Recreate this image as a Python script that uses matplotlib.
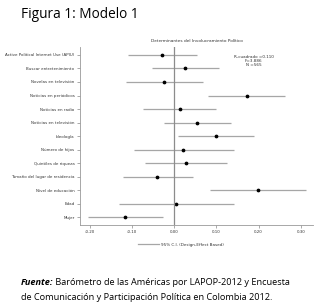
import matplotlib
matplotlib.use("Agg")
import matplotlib.pyplot as plt
from matplotlib.lines import Line2D
import numpy as np

variables = [
    "Active Political Internet Use (APIU)",
    "Buscar entretenimiento",
    "Novelas en televisión",
    "Noticias en periódicos",
    "Noticias en radio",
    "Noticias en televisión",
    "Ideología",
    "Número de hijos",
    "Quintiles de riqueza",
    "Tamaño del lugar de residencia",
    "Nivel de educación",
    "Edad",
    "Mujer",
]
coef = [-0.029, 0.026, -0.023, 0.172, 0.013, 0.054, 0.099, 0.022, 0.028, -0.040, 0.198, 0.005, -0.116]
ci_low = [-0.110, -0.052, -0.115, 0.081, -0.073, -0.025, 0.010, -0.095, -0.069, -0.122, 0.085, -0.130, -0.203]
ci_high = [0.054, 0.107, 0.069, 0.263, 0.099, 0.135, 0.189, 0.142, 0.126, 0.044, 0.312, 0.142, -0.027]
xticks = [-0.20, -0.10, 0.00, 0.10, 0.20, 0.30]
stats_text = "R-cuadrado =0.110\nF=3.886\nN =565"

fig = plt.figure(figsize=(3.2, 3.06), dpi=100)
ax = fig.add_axes([0.25, 0.265, 0.728, 0.581])

y = np.arange(len(variables))
ax.hlines(y, ci_low, ci_high, color="#a6a6a6", linewidth=0.9)
ax.plot(coef, y, "o", color="black", markersize=1.7)
ax.axvline(0, color="#8c8c8c", linewidth=0.9)

ax.set_ylim(12.55, -0.57)
ax.set_xlim(-0.223, 0.329)
ax.set_yticks(y)
ax.set_yticklabels(variables)
ax.set_xticks(xticks)
ax.set_xticklabels([f"{t:.2f}" for t in xticks])
ax.tick_params(labelsize=2.9, length=2, width=0.5, colors="#888888", labelcolor="#333333", pad=2)
for s in ["top", "right"]:
    ax.spines[s].set_visible(False)
for s in ["left", "bottom"]:
    ax.spines[s].set_color("#999999")
    ax.spines[s].set_linewidth(0.6)

ax.set_title("Determinantes del Involucramiento Político", fontsize=3.1, color="#333333", pad=4)
ax.text(0.188, 0.45, stats_text, fontsize=3.0, color="#333333", ha="center", va="center", linespacing=0.95)

handle = Line2D([], [], color="#a6a6a6", linewidth=0.9)
fig.legend([handle], ["95% C.I. (Design-Effect Based)"], loc="center left",
           bbox_to_anchor=(0.42, 0.20), frameon=False, fontsize=3.0,
           handlelength=5, handletextpad=0.6, labelcolor="#333333")

fig.text(0.065, 0.953, "Figura 1: Modelo 1", fontsize=9.8, ha="left", va="center", family="Open Sans")

# footer: bold italic "Fuente:" followed by regular text on the same baseline
fuente = fig.text(0.065, 0.068, "Fuente:", fontsize=6.6, style="italic", weight="bold",
                  ha="left", va="baseline", family="Open Sans")
renderer = fig.canvas.get_renderer()
bb = fuente.get_window_extent(renderer)
x_next = bb.x1 / fig.bbox.width
fig.text(x_next, 0.068, " Barómetro de las Américas por LAPOP-2012 y Encuesta", fontsize=6.6,
         ha="left", va="baseline", family="Open Sans")
fig.text(0.065, 0.019, "de Comunicación y Participación Política en Colombia 2012.", fontsize=6.6,
         ha="left", va="baseline", family="Open Sans")

fig.savefig("out.png", dpi=100)
